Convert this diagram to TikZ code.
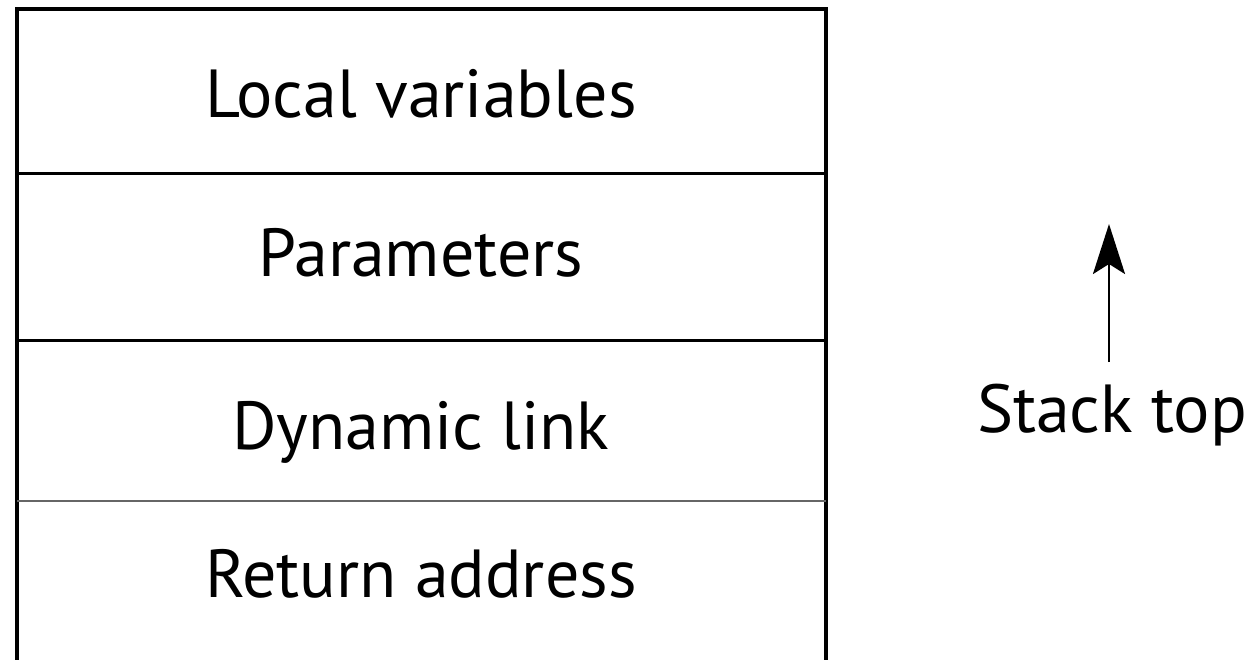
\documentclass[tikz,border=0pt]{standalone}
\usepackage{fontspec}
\setmainfont{PT Sans}
\usetikzlibrary{arrows.meta}
\begin{document}
\begin{tikzpicture}[x=1pt,y=-1pt,
  lbl/.style={anchor=base,inner sep=0pt,font=\fontsize{68}{80}\selectfont},
  frame/.style={line width=4pt,line cap=rect},
  divider/.style={line width=3pt},
  thindiv/.style={line width=1.5pt,black!60},
  arr/.style={line width=2.5pt,-{Stealth[length=50pt,width=32pt,inset=10pt]}}]
\useasboundingbox (0,0) rectangle (1248,659);
\fill[white] (0,0) rectangle (1248,659);
% frame
\draw[frame] (17,659) -- (17,9) -- (826,9) -- (826,659);
\draw[divider] (17,173) -- (826,173);
\draw[divider] (17,340) -- (826,340);
\draw[thindiv] (17,501) -- (826,501);
% labels
\node[lbl] (lv) at (421,117) {Local variables};
\node[lbl] (pa) at (421,276) {Parameters};
\node[lbl] (dl) at (421,449) {Dynamic link};
\node[lbl] (ra) at (421,597) {Return address};
\node[lbl] (st) at (1112,432) {Stack top};
\coordinate (tail) at (1109,362);
\coordinate (tip) at (1109,224);
\draw[arr] (tail) -- (tip);
\end{tikzpicture}
\end{document}
